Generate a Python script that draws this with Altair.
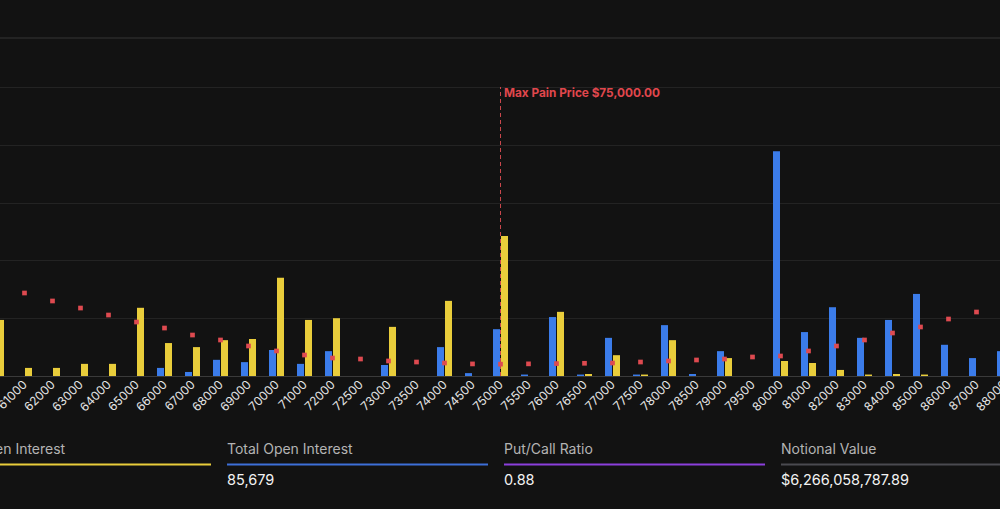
import altair as alt
import pandas as pd

# Strike ladder and open interest per strike (contracts)
STRIKES = [60000, 61000, 62000, 63000, 64000, 65000, 66000, 67000, 68000, 69000,
           70000, 71000, 72000, 72500, 73000, 73500, 74000, 74500, 75000, 75500,
           76000, 76500, 77000, 77500, 78000, 78500, 79000, 79500, 80000, 81000,
           82000, 83000, 84000, 85000, 86000, 87000, 88000]
CALL_OI = [0, 0, 0, 0, 0, 0, 140, 70, 280, 240,
           450, 210, 430, 0, 190, 0, 500, 50, 810, 25,
           1020, 25, 660, 25, 880, 35, 430, 0, 3890, 760,
           1190, 660, 970, 1420, 540, 310, 430]
PUT_OI = [970, 140, 140, 210, 210, 1180, 570, 500, 620, 640,
          1700, 970, 1000, 0, 850, 0, 1300, 0, 2420, 0,
          1110, 35, 360, 25, 620, 0, 310, 0, 260, 225,
          105, 25, 35, 25, 0, 0, 0]
# Total option-holder pain at each expiry price ($M)
TOTAL_PAIN = [155.7, 143.6, 129.8, 117.6, 105.5, 93.4, 83.0, 70.9, 62.3, 51.9,
              43.3, 36.3, 31.1, 29.4, 26.0, 24.2, 22.5, 20.9, 20.5, 21.0,
              21.5, 22.0, 22.5, 24.2, 26.0, 27.7, 29.4, 32.9, 34.6, 43.3,
              51.9, 62.3, 74.4, 84.8, 98.6, 110.7, 122.8]
MAX_PAIN = 75000

STAT_LABELS = ["Put Open Interest", "Total Open Interest", "Put/Call Ratio", "Notional Value"]
STAT_VALUES = ["", "85,679", "0.88", "$6,266,058,787.89"]

BG = "#121212"
BLUE = "#3b7cea"
YELLOW = "#e9cd3b"
RED = "#de4a50"
STAT_COLORS = [YELLOW, "#3d6fd8", "#8b3fdc", "#4a4a50"]
FONT = "Inter"

# layout
STEP_PX = 28.0          # distance between strike slots
FIRST_CENTER = -3.5     # pixel centre of the first strike slot
BAR_PX = 7.0
GAP_PX = 0.5
PLOT_TOP = 87
PLOT_H = 289
OI_MAX = 5000
PAIN_MAX = 500

n = len(STRIKES)
idx = list(range(n))

bars = pd.DataFrame({
    "idx": idx * 2,
    "strike": STRIKES * 2,
    "type": ["Call"] * n + ["Put"] * n,
    "oi": CALL_OI + PUT_OI,
})
pain = pd.DataFrame({"idx": idx, "strike": STRIKES, "pain": TOTAL_PAIN})
mp = pd.DataFrame({
    "idx": [STRIKES.index(MAX_PAIN)],
    "y0": [0],
    "y1": [OI_MAX],
    "label": [f"Max Pain Price ${MAX_PAIN:,.2f}"],
})

x_scale = alt.Scale(domain=[0, n - 1],
                    range=[FIRST_CENTER, FIRST_CENTER + STEP_PX * (n - 1)],
                    nice=False, zero=False)
y_scale = alt.Scale(domain=[0, OI_MAX], nice=False)

label_expr = "[" + ",".join(f"'{s}'" for s in STRIKES) + "][datum.value]"
x_axis = alt.Axis(values=idx, labelExpr=label_expr, labelAngle=-45, labelAlign="right",
                  labelBaseline="middle", labelPadding=6, ticks=False,
                  domainColor="#3a3a3a", labelColor="#e6e6e6", labelFont=FONT,
                  labelFontSize=12, grid=False, title=None, labelOverlap=False,
                  labelFlush=False, labelBound=False)
y_axis = alt.Axis(values=[1000, 2000, 3000, 4000, 5000], grid=True, gridColor="#232323",
                  labels=False, ticks=False, domain=False, title=None)

inner = GAP_PX / STEP_PX
outer = (GAP_PX + BAR_PX) / STEP_PX

bar_layer = alt.Chart(bars).transform_calculate(
    side="datum.type === 'Call' ? -1 : 1"
).transform_calculate(
    x0=f"datum.idx + datum.side * {inner}",
    x1=f"datum.idx + datum.side * {outer}",
).mark_rect(clip=True).encode(
    x=alt.X("x0:Q", scale=x_scale, axis=x_axis),
    x2="x1:Q",
    y=alt.Y("oi:Q", scale=y_scale, axis=y_axis),
    y2=alt.datum(0),
    color=alt.Color("type:N", scale=alt.Scale(domain=["Call", "Put"], range=[BLUE, YELLOW]),
                    legend=None),
)

rule_layer = alt.Chart(mp).mark_rule(color="#c9474c", strokeWidth=1, strokeDash=[4, 3]).encode(
    x=alt.X("idx:Q", scale=x_scale, axis=x_axis),
    y=alt.Y("y0:Q", scale=y_scale, axis=y_axis),
    y2="y1:Q",
)

mp_text = alt.Chart(mp).mark_text(align="left", baseline="middle", dx=3.5, dy=5.5,
                                  font=FONT, fontWeight="bold", fontSize=11.8,
                                  color="#e0474d").encode(
    x=alt.X("idx:Q", scale=x_scale, axis=x_axis),
    y=alt.Y("y1:Q", scale=y_scale, axis=y_axis),
    text="label:N",
)

core = alt.layer(bar_layer, rule_layer, mp_text)

pain_layer = alt.Chart(pain).mark_square(size=22, color=RED, opacity=1).encode(
    x=alt.X("idx:Q", scale=x_scale, axis=x_axis),
    y=alt.Y("pain:Q", scale=alt.Scale(domain=[0, PAIN_MAX], nice=False), axis=None),
)

one = pd.DataFrame({"k": [0]})

top_line = alt.Chart(one).mark_rule(color="#343434", strokeWidth=1).encode(
    x=alt.value(0), x2=alt.value(1000), y=alt.value(38 - PLOT_TOP)
)

# summary strip below the chart
STAT_LEFT = -50
STAT_STEP = 277
STAT_WIDTH = 261
stat_layers = []
for i, (lab, val, col) in enumerate(zip(STAT_LABELS, STAT_VALUES, STAT_COLORS)):
    left = STAT_LEFT + i * STAT_STEP
    stat_layers.append(
        alt.Chart(one).mark_text(text=lab, align="left", baseline="middle", font=FONT,
                                 fontSize=14, color="#b4b4b4").encode(
            x=alt.value(left), y=alt.value(450 - PLOT_TOP))
    )
    stat_layers.append(
        alt.Chart(one).mark_rule(color=col, strokeWidth=2).encode(
            x=alt.value(left), x2=alt.value(left + STAT_WIDTH), y=alt.value(464.5 - PLOT_TOP))
    )
    if val:
        stat_layers.append(
            alt.Chart(one).mark_text(text=val, align="left", baseline="middle", font=FONT,
                                     fontSize=14.5, color="#f2f2f2").encode(
                x=alt.value(left), y=alt.value(481 - PLOT_TOP))
        )

chart = alt.layer(core, pain_layer, top_line, *stat_layers).resolve_scale(
    y="independent"
).properties(
    width=1000,
    height=PLOT_H,
    autosize=alt.AutoSizeParams(type="none"),
    padding={"left": 0, "top": PLOT_TOP, "right": 0, "bottom": 509 - PLOT_TOP - PLOT_H},
    background=BG,
).configure_view(strokeWidth=0)

chart.save("out.html", embed_options={"renderer": "svg", "actions": False})
